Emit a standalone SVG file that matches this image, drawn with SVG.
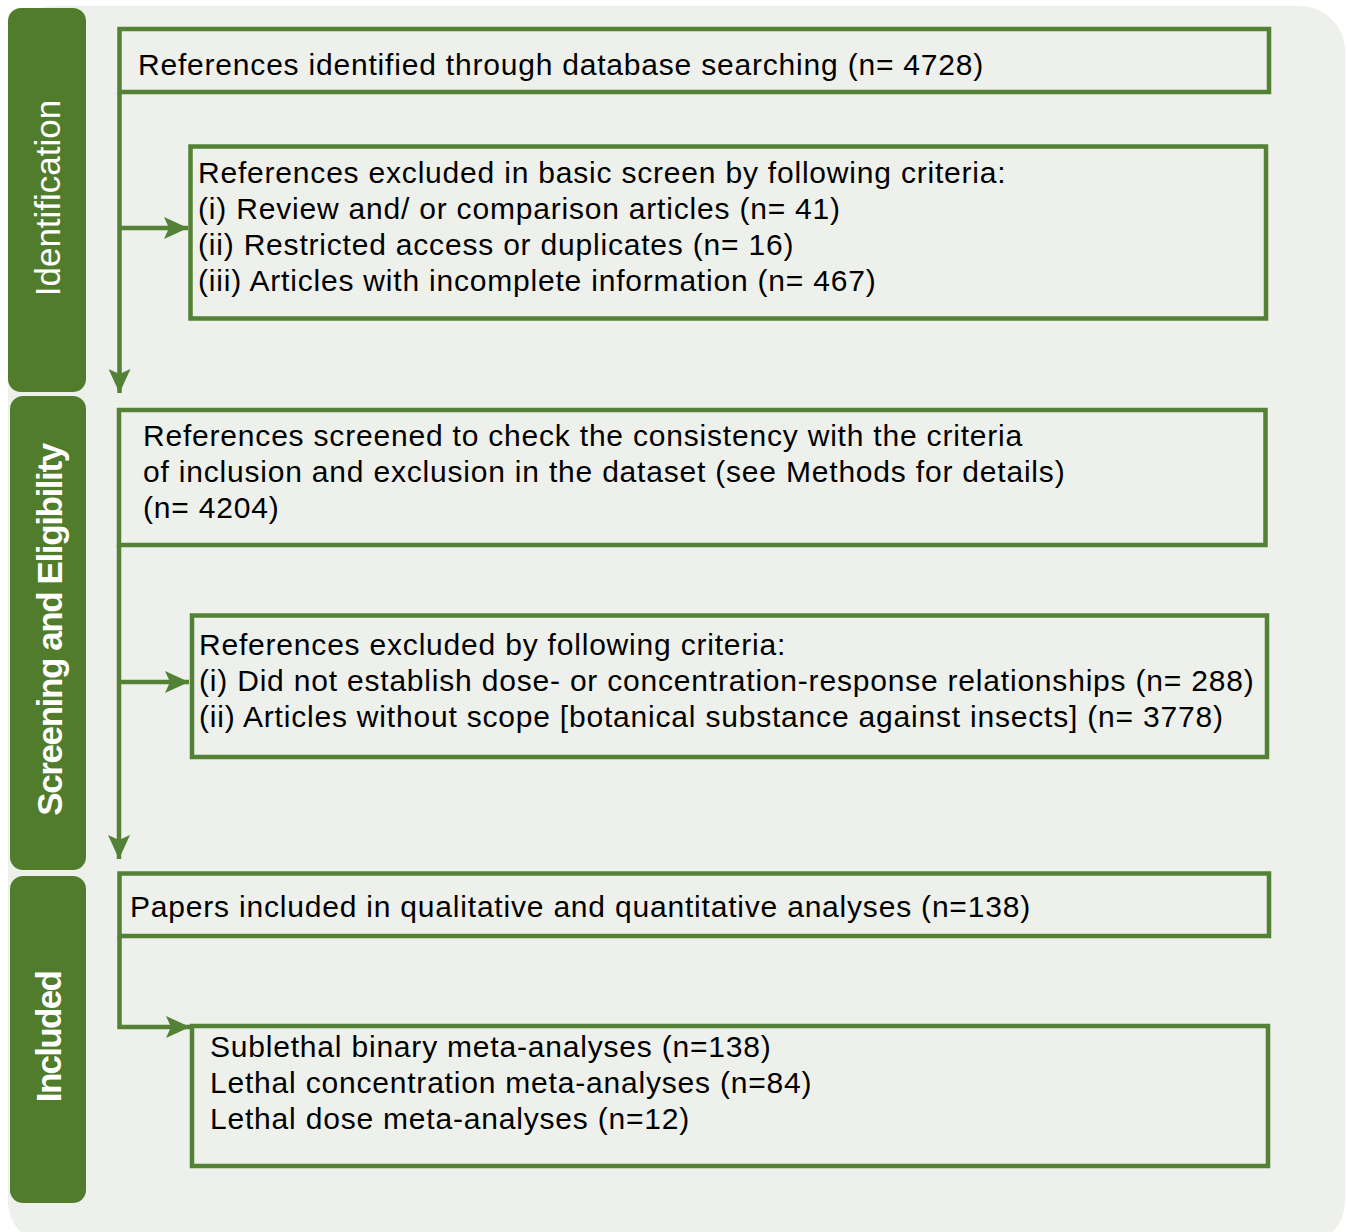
<svg xmlns="http://www.w3.org/2000/svg" width="1347" height="1232" viewBox="0 0 1347 1232">
<style>
.bg{fill:#EEF0EB}
.bar{fill:#507C2C}
.box{fill:#EEF0EB;stroke:#538135;stroke-width:4.5}
.lbl{font-family:"Liberation Sans",Arial,sans-serif;font-size:35px;fill:#FFFFFF;text-anchor:middle}
.bold{font-weight:bold}
.t{font-family:"Liberation Sans",Arial,sans-serif;font-size:30px;fill:#000000;letter-spacing:0.8px}
.con{fill:none;stroke:#538135;stroke-width:4.5}
</style>
<defs>
<marker id="ah" viewBox="0 0 24 22" refX="24" refY="11" markerWidth="24" markerHeight="22" markerUnits="userSpaceOnUse" orient="auto">
<path d="M0,0 L24,11 L0,22 L5,11 Z" fill="#538135"/>
</marker>
</defs>
<rect class="bg" x="8" y="6" width="1337" height="1240" rx="45" ry="45"/>
<g id="bar-identification">
<rect class="bar" x="8" y="8" width="78" height="384" rx="13"/>
<text class="lbl" transform="translate(60,198) rotate(-90)">Identification</text>
</g>
<g id="bar-screening">
<rect class="bar" x="10" y="396" width="76" height="474" rx="13"/>
<text class="lbl bold" style="letter-spacing:-1.4px" transform="translate(62,630) rotate(-90)">Screening and Eligibility</text>
</g>
<g id="bar-included">
<rect class="bar" x="10" y="876" width="76" height="327" rx="13"/>
<text class="lbl bold" style="letter-spacing:-1.7px" transform="translate(61,1037) rotate(-90)">Included</text>
</g>
<g id="connectors">
<path class="con" d="M119.5,92 V393" marker-end="url(#ah)"/>
<path class="con" d="M119.5,228 H188" marker-end="url(#ah)"/>
<path class="con" d="M119,545 V859" marker-end="url(#ah)"/>
<path class="con" d="M119,682 H189" marker-end="url(#ah)"/>
<path class="con" d="M119.5,936 V1027 H190" marker-end="url(#ah)"/>
</g>
<g id="node-identified">
<rect class="box" x="119.5" y="29" width="1149.5" height="63"/>
<text class="t" x="138" y="75">References identified through database searching (n= 4728)</text>
</g>
<g id="node-excluded-basic">
<rect class="box" x="190.5" y="146.5" width="1075.5" height="172"/>
<text class="t" x="198" y="183">References excluded in basic screen by following criteria:</text>
<text class="t" x="198" y="219">(i) Review and/ or comparison articles (n= 41)</text>
<text class="t" x="198" y="255">(ii) Restricted access or duplicates (n= 16)</text>
<text class="t" x="198" y="291">(iii) Articles with incomplete information (n= 467)</text>
</g>
<g id="node-screened">
<rect class="box" x="119" y="410" width="1146.5" height="135"/>
<text class="t" x="143" y="446">References screened to check the consistency with the criteria</text>
<text class="t" x="143" y="482">of inclusion and exclusion in the dataset (see Methods for details)</text>
<text class="t" x="143" y="518">(n= 4204)</text>
</g>
<g id="node-excluded-criteria">
<rect class="box" x="192" y="615.5" width="1075" height="141.5"/>
<text class="t" x="199" y="655">References excluded by following criteria:</text>
<text class="t" x="199" y="691">(i) Did not establish dose- or concentration-response relationships (n= 288)</text>
<text class="t" x="199" y="727">(ii) Articles without scope [botanical substance against insects] (n= 3778)</text>
</g>
<g id="node-included">
<rect class="box" x="119.5" y="873.5" width="1149.5" height="62.5"/>
<text class="t" x="130" y="917">Papers included in qualitative and quantitative analyses (n=138)</text>
</g>
<g id="node-meta">
<rect class="box" x="192" y="1026" width="1076" height="140"/>
<text class="t" x="210" y="1057">Sublethal binary meta-analyses (n=138)</text>
<text class="t" x="210" y="1093">Lethal concentration meta-analyses (n=84)</text>
<text class="t" x="210" y="1129">Lethal dose meta-analyses (n=12)</text>
</g>
</svg>
